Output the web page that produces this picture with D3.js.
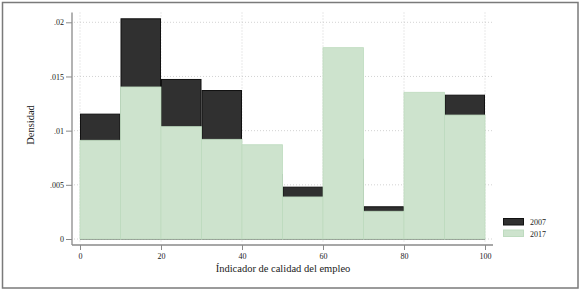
<!DOCTYPE html>
<html>
<head>
<meta charset="utf-8">
<script src="https://cdn.jsdelivr.net/npm/d3@7"></script>
<style>
  html, body { margin: 0; padding: 0; background: #fff; }
  text { font-family: "Liberation Serif", "Times New Roman", serif; fill: #222; }
</style>
</head>
<body>
<svg id="chart" width="581" height="292"></svg>
<script>
// Data
const binStarts = [0, 10, 20, 30, 40, 50, 60, 70, 80, 90];
const binWidth = 10;
const density2007 = [0.01157, 0.02037, 0.01477, 0.01375, 0.0060, 0.00483, 0.0074, 0.00302, 0.0050, 0.01332];
const density2017 = [0.00911, 0.01403, 0.01037, 0.0092, 0.0087, 0.00388, 0.01766, 0.00256, 0.01354, 0.01144];
const xTicks = [0, 20, 40, 60, 80, 100];
const yTicks = [0, 0.005, 0.01, 0.015, 0.02];
const yTickLabels = ["0", ".005", ".01", ".015", ".02"];
const seriesNames = ["2007", "2017"];
const xTitle = "Índicador de calidad del empleo";
const yTitle = "Densidad";

const svg = d3.select("#chart");

// Outer frame
svg.append("rect").attr("x", 2.5).attr("y", 2.5).attr("width", 575.5).attr("height", 285.5)
  .attr("fill", "#fff").attr("stroke", "#7a7a7a").attr("stroke-width", 1.5);

const x = d3.scaleLinear().domain([0, 100]).range([80, 485]);
const y = d3.scaleLinear().domain([0, 0.02]).range([239, 22.3]);

const plotTop = 12.5, plotBottom = 245, plotLeft = 72, plotRight = 493;

// Grid
svg.append("g").selectAll("line").data(yTicks).join("line")
  .attr("x1", plotLeft + 2).attr("x2", plotRight)
  .attr("y1", d => y(d)).attr("y2", d => y(d))
  .attr("stroke", "#c8c8c8").attr("stroke-width", 0.8).attr("stroke-dasharray", "1,2");
svg.append("g").selectAll("line").data(xTicks).join("line")
  .attr("x1", d => x(d)).attr("x2", d => x(d))
  .attr("y1", plotTop).attr("y2", plotBottom - 2)
  .attr("stroke", "#c8c8c8").attr("stroke-width", 0.8).attr("stroke-dasharray", "1,2");

// Bars 2007 (stroke drawn inside the bar so hidden bars do not peek out)
svg.append("g").selectAll("rect").data(binStarts).join("rect")
  .attr("x", (d) => x(d) + 0.5)
  .attr("width", d => x(d + binWidth) - x(d) - 1)
  .attr("y", (d, i) => y(density2007[i]) + 0.5)
  .attr("height", (d, i) => y(0) - y(density2007[i]) - 0.5)
  .attr("fill", "#303030").attr("stroke", "#111").attr("stroke-width", 1);

// Bars 2017
svg.append("g").selectAll("rect").data(binStarts).join("rect")
  .attr("x", (d) => x(d))
  .attr("width", d => x(d + binWidth) - x(d))
  .attr("y", (d, i) => y(density2017[i]))
  .attr("height", (d, i) => y(0) - y(density2017[i]))
  .attr("fill", "#cde3cd").attr("stroke", "#bedbbf").attr("stroke-width", 0.8);

// Axes
const yAxis = d3.axisLeft(y).tickValues(yTicks).tickFormat((d, i) => yTickLabels[i]).tickSize(6).tickPadding(2);
const gy = svg.append("g").attr("transform", `translate(${plotLeft},0)`).call(yAxis);
gy.select(".domain").remove();
gy.append("line").attr("x1", 0).attr("x2", 0).attr("y1", plotTop).attr("y2", plotBottom)
  .attr("stroke", "#8a8a8a").attr("stroke-width", 1.3);
gy.selectAll(".tick line").attr("stroke", "#8a8a8a").attr("stroke-width", 1);
gy.selectAll(".tick text").attr("font-size", 8).attr("font-family", "Liberation Serif").attr("fill", "#222");

const xAxis = d3.axisBottom(x).tickValues(xTicks).tickFormat(d3.format("d")).tickSize(5).tickPadding(3);
const gx = svg.append("g").attr("transform", `translate(0,${plotBottom})`).call(xAxis);
gx.select(".domain").remove();
gx.append("line").attr("x1", plotLeft).attr("x2", plotRight).attr("y1", 0).attr("y2", 0)
  .attr("stroke", "#8a8a8a").attr("stroke-width", 1.3);
gx.selectAll(".tick line").attr("stroke", "#8a8a8a").attr("stroke-width", 1);
gx.selectAll(".tick text").attr("font-size", 8).attr("font-family", "Liberation Serif").attr("fill", "#222");

// Titles
svg.append("text").attr("x", 283).attr("y", 272).attr("text-anchor", "middle")
  .attr("font-size", 10.5).text(xTitle);
svg.append("text").attr("transform", "translate(34,125) rotate(-90)").attr("text-anchor", "middle")
  .attr("font-size", 10.5).text(yTitle);

// Legend
const legColors = [["#303030", "#111"], ["#cde3cd", "#bedbbf"]];
const legY = [218.5, 230];
seriesNames.forEach((name, i) => {
  svg.append("rect").attr("x", 503.5).attr("y", legY[i]).attr("width", 20).attr("height", 6.5)
    .attr("fill", legColors[i][0]).attr("stroke", legColors[i][1]).attr("stroke-width", 1);
  svg.append("text").attr("x", 530).attr("y", legY[i] + 6.5).attr("font-size", 8).text(name);
});
</script>
</body>
</html>
